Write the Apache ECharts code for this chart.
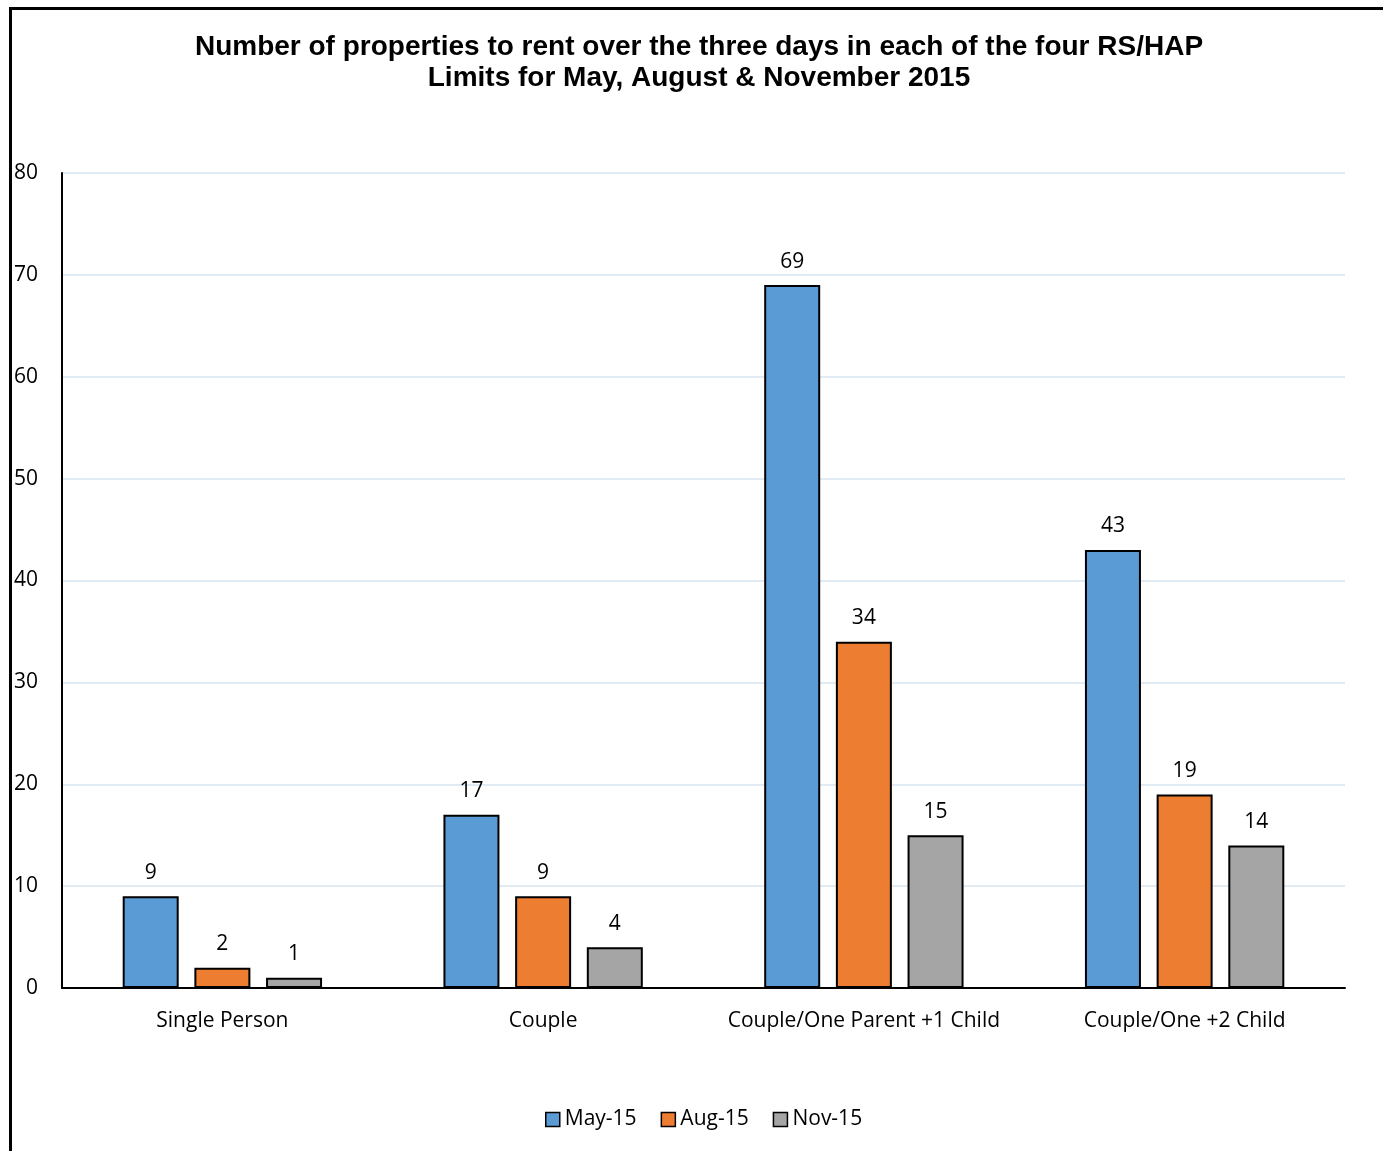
<!DOCTYPE html>
<html>
<head>
<meta charset="utf-8">
<script src="https://cdn.jsdelivr.net/npm/echarts@6/dist/echarts.min.js"></script>
<style>
  html, body { margin: 0; padding: 0; background: #fff; overflow: hidden; }
  #frame { position: absolute; left: 9px; top: 7px; width: 1400px; height: 1200px; border: 3px solid #000; box-sizing: border-box; }
  #chart { position: absolute; left: 0; top: 0; width: 1383px; height: 1151px; }
</style>
</head>
<body>
<div id="frame"></div>
<div id="chart"></div>
<script>
// categories and series
var categories = ['Single Person', 'Couple', 'Couple/One Parent +1 Child', 'Couple/One +2 Child'];
var may15 = [9, 17, 69, 43];
var aug15 = [2, 9, 34, 19];
var nov15 = [1, 4, 15, 14];
var seriesNames = ['May-15', 'Aug-15', 'Nov-15'];
var colors = ['#5b9bd5', '#ed7d31', '#a5a5a5'];

var labelFont = '"Open Sans", "DejaVu Sans", sans-serif';

function makeSeries(name, data, color) {
	return {
		name : name,
		type : 'bar',
		data : data,
		barWidth : 56,
		barGap : '28%',
		itemStyle : {
			color : color,
			borderColor : '#000',
			borderWidth : 2
		},
		label : {
			show : true,
			position : 'top',
			distance : 13,
			color : '#000',
			fontSize : 21,
			fontFamily : labelFont
		}
	};
}

var chart = echarts.init(document.getElementById('chart'));

var option = {
	animation : false,
	title : {
		text : 'Number of properties to rent over the three days in each of the four RS/HAP\nLimits for May, August & November 2015',
		left : 694,
		textAlign : 'center',
		top : 27,
		textStyle : {
			fontFamily : '"Liberation Sans", Arial, sans-serif',
			fontWeight : 'bold',
			fontSize : 28,
			lineHeight : 31,
			color : '#000'
		}
	},
	legend : {
		data : seriesNames,
		bottom : 16,
		left : 540,
		itemWidth : 14,
		itemHeight : 14,
		itemGap : 24,
		icon : 'rect',
		textStyle : {
			fontFamily : labelFont,
			fontSize : 21,
			color : '#000'
		},
		itemStyle : {
			borderColor : '#000',
			borderWidth : 1.5
		}
	},
	grid : {
		left : 62,
		right : 38,
		top : 173,
		bottom : 163
	},
	xAxis : {
		type : 'category',
		data : categories,
		axisLine : { lineStyle : { color : '#000', width : 2 } },
		axisTick : { show : false },
		axisLabel : {
			interval : 0,
			margin : 23,
			color : '#000',
			fontSize : 21,
			fontFamily : labelFont
		}
	},
	yAxis : {
		type : 'value',
		min : 0,
		max : 80,
		interval : 10,
		axisLine : { show : true, lineStyle : { color : '#000', width : 2 } },
		axisTick : { show : false },
		axisLabel : {
			margin : 24,
			color : '#000',
			fontSize : 21,
			fontFamily : labelFont
		},
		splitLine : { lineStyle : { color : '#d6e4f0', width : 1.5 } }
	},
	series : [
		makeSeries(seriesNames[0], may15, colors[0]),
		makeSeries(seriesNames[1], aug15, colors[1]),
		makeSeries(seriesNames[2], nov15, colors[2])
	]
};

chart.setOption(option);
</script>
</body>
</html>
